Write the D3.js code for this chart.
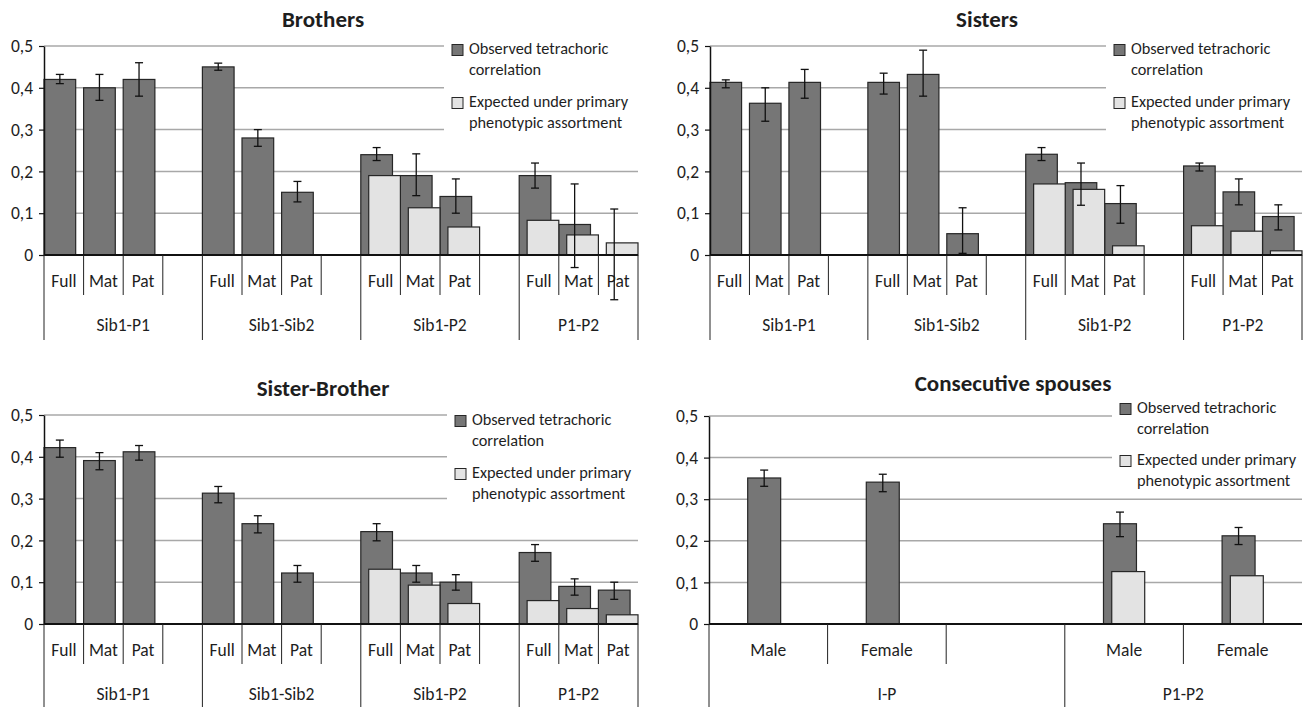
<!DOCTYPE html>
<html>
<head>
<meta charset="utf-8">
<script src="https://cdn.jsdelivr.net/npm/d3@7"></script>
<style>
  body { margin: 0; background: #fff; }
  svg { display: block; }
  text { font-family: Carlito, Lato, "Open Sans", sans-serif; fill: #1e1e1e; }
</style>
</head>
<body>
<svg id="chart" width="1315" height="707"></svg>
<script>
// ---- categories (group, sub-category); "" marks a spacer slot ----
const siblingCategories = [
  ["Sib1-P1", "Full"], ["Sib1-P1", "Mat"], ["Sib1-P1", "Pat"], ["Sib1-P1", ""],
  ["Sib1-Sib2", "Full"], ["Sib1-Sib2", "Mat"], ["Sib1-Sib2", "Pat"], ["Sib1-Sib2", ""],
  ["Sib1-P2", "Full"], ["Sib1-P2", "Mat"], ["Sib1-P2", "Pat"], ["Sib1-P2", ""],
  ["P1-P2", "Full"], ["P1-P2", "Mat"], ["P1-P2", "Pat"]
];
const spouseCategories = [
  ["I-P", "Male"], ["I-P", "Female"], ["I-P", ""],
  ["P1-P2", "Male"], ["P1-P2", "Female"]
];

// ---- Brothers ----
const brothersObserved = [0.42, 0.40, 0.42, null, 0.45, 0.28, 0.15, null, 0.24, 0.19, 0.14, null, 0.19, 0.073, 0.0];
const brothersLow      = [0.41, 0.37, 0.38, null, 0.442, 0.26, 0.127, null, 0.226, 0.142, 0.10, null, 0.16, -0.03, -0.107];
const brothersHigh     = [0.432, 0.432, 0.46, null, 0.459, 0.30, 0.176, null, 0.257, 0.242, 0.182, null, 0.22, 0.17, 0.11];
const brothersExpected = [null, null, null, null, null, null, null, null, 0.19, 0.113, 0.067, null, 0.083, 0.048, 0.029];

// ---- Sisters ----
const sistersObserved = [0.413, 0.363, 0.413, null, 0.413, 0.432, 0.051, null, 0.241, 0.173, 0.123, null, 0.213, 0.151, 0.092];
const sistersLow      = [0.400, 0.32, 0.375, null, 0.385, 0.38, 0.004, null, 0.226, 0.119, 0.076, null, 0.201, 0.12, 0.06];
const sistersHigh     = [0.419, 0.40, 0.444, null, 0.435, 0.49, 0.113, null, 0.257, 0.22, 0.166, null, 0.22, 0.182, 0.12];
const sistersExpected = [null, null, null, null, null, null, null, null, 0.170, 0.157, 0.022, null, 0.070, 0.057, 0.010];

// ---- Sister-Brother ----
const mixedObserved = [0.422, 0.391, 0.412, null, 0.313, 0.240, 0.122, null, 0.221, 0.122, 0.100, null, 0.171, 0.090, 0.081];
const mixedLow      = [0.399, 0.369, 0.392, null, 0.290, 0.218, 0.100, null, 0.199, 0.100, 0.081, null, 0.150, 0.069, 0.059];
const mixedHigh     = [0.440, 0.410, 0.427, null, 0.329, 0.259, 0.140, null, 0.240, 0.140, 0.118, null, 0.190, 0.108, 0.100];
const mixedExpected = [null, null, null, null, null, null, null, null, 0.131, 0.093, 0.049, null, 0.056, 0.037, 0.022];

// ---- Consecutive spouses ----
const spousesObserved = [0.351, 0.341, null, 0.241, 0.212];
const spousesLow      = [0.331, 0.318, null, 0.21, 0.191];
const spousesHigh     = [0.37, 0.36, null, 0.269, 0.232];
const spousesExpected = [null, null, null, 0.126, 0.116];

const yTicks = [0, 0.1, 0.2, 0.3, 0.4, 0.5];
const legendLabels = [
  ["Observed tetrachoric", "correlation"],
  ["Expected under primary", "phenotypic assortment"]
];

const COLORS = { observed: "#767676", expected: "#e3e3e3", edge: "#262626", grid: "#a8a8a8" };
const FONT = "Carlito, Lato, 'Open Sans', sans-serif";
const AXIS_FONT = 17.5;

const svg = d3.select("#chart");

function drawPanel(p) {
  const g = svg.append("g");
  const n = p.categories.length;
  const x = d3.scaleBand().domain(d3.range(n)).range([p.x0, p.x1]).padding(0);
  const y = d3.scaleLinear().domain([0, 0.5]).range([p.yZero, p.yTop]);
  const bw = x.bandwidth();
  const w = bw * p.barFrac;
  const clusterLeft = i => x(i) + bw / 2 - 0.625 * w;

  // horizontal gridlines
  g.selectAll("line.grid").data(yTicks.slice(1)).join("line")
    .attr("x1", p.x0).attr("x2", p.x1)
    .attr("y1", d => y(d)).attr("y2", d => y(d))
    .attr("stroke", COLORS.grid).attr("stroke-width", 1.5);

  // legend backdrop hides the gridlines underneath it
  g.append("rect")
    .attr("x", p.legendX - 8).attr("y", p.legendY[0] - 12)
    .attr("width", 1315 - p.legendX).attr("height", p.legendY[3] - p.legendY[0] + 23)
    .attr("fill", "#fff");

  const idx = d3.range(n);

  // observed bars
  g.selectAll("rect.obs").data(idx.filter(i => p.observed[i] != null)).join("rect")
    .attr("x", i => clusterLeft(i))
    .attr("y", i => y(p.observed[i]))
    .attr("width", w)
    .attr("height", i => y(0) - y(p.observed[i]))
    .attr("fill", COLORS.observed).attr("stroke", COLORS.edge).attr("stroke-width", 1.2);

  // expected bars (offset, drawn over the observed ones)
  g.selectAll("rect.exp").data(idx.filter(i => p.expected[i] != null)).join("rect")
    .attr("x", i => clusterLeft(i) + 0.25 * w)
    .attr("y", i => y(p.expected[i]))
    .attr("width", w)
    .attr("height", i => y(0) - y(p.expected[i]))
    .attr("fill", COLORS.expected).attr("stroke", COLORS.edge).attr("stroke-width", 1.2);

  // confidence intervals on observed bars
  const eb = g.selectAll("g.err").data(idx.filter(i => p.low[i] != null)).join("g");
  const cx = i => clusterLeft(i) + w / 2;
  eb.append("line")
    .attr("x1", cx).attr("x2", cx)
    .attr("y1", i => y(p.low[i])).attr("y2", i => y(p.high[i]))
    .attr("stroke", "#111").attr("stroke-width", 1.3);
  ["low", "high"].forEach(k => {
    eb.append("line")
      .attr("x1", i => cx(i) - 4).attr("x2", i => cx(i) + 4)
      .attr("y1", i => y(p[k][i])).attr("y2", i => y(p[k][i]))
      .attr("stroke", "#111").attr("stroke-width", 1.3);
  });

  // y axis
  const yAxis = d3.axisLeft(y).tickValues(yTicks).tickSizeInner(5).tickSizeOuter(0)
    .tickPadding(6)
    .tickFormat(d => d === 0 ? "0" : d3.format(".1f")(d).replace(".", ","));
  const ya = g.append("g").attr("transform", `translate(${p.x0},0)`).call(yAxis);
  ya.select(".domain").attr("stroke", "#111").attr("stroke-width", 1.5);
  ya.selectAll(".tick line").attr("stroke", "#111").attr("stroke-width", 1.2);
  ya.selectAll(".tick text").attr("font-size", AXIS_FONT).attr("fill", "#1e1e1e")
    .style("font-family", FONT);

  // x axis baseline
  g.append("line").attr("x1", p.x0).attr("x2", p.x1)
    .attr("y1", y(0)).attr("y2", y(0))
    .attr("stroke", "#111").attr("stroke-width", 2);

  // category divider ticks: short between sub-categories, long at group starts
  const isGroupStart = i => i === 0 || p.categories[i][0] !== p.categories[i - 1][0];
  g.selectAll("line.tick").data(idx).join("line")
    .attr("x1", i => x(i)).attr("x2", i => x(i))
    .attr("y1", y(0)).attr("y2", i => y(0) + (isGroupStart(i) ? p.longTick : 40))
    .attr("stroke", "#222").attr("stroke-width", 1);
  if (p.closeRight) {
    g.append("line").attr("x1", p.x1).attr("x2", p.x1)
      .attr("y1", y(0)).attr("y2", y(0) + p.longTick)
      .attr("stroke", "#222").attr("stroke-width", 1);
  }

  // sub-category labels
  g.selectAll("text.sub").data(idx.filter(i => p.categories[i][1] !== "")).join("text")
    .attr("x", i => x(i) + bw / 2).attr("y", y(0) + 28)
    .attr("text-anchor", "middle").attr("dominant-baseline", "middle")
    .attr("font-size", AXIS_FONT)
    .text(i => p.categories[i][1]);

  // group labels
  const groups = d3.groups(idx, i => p.categories[i][0]);
  g.selectAll("text.grp").data(groups).join("text")
    .attr("x", d => (x(d[1][0]) + x(d[1][d[1].length - 1]) + bw) / 2)
    .attr("y", y(0) + 72)
    .attr("text-anchor", "middle").attr("dominant-baseline", "middle")
    .attr("font-size", AXIS_FONT)
    .text(d => d[0]);

  // title
  g.append("text").attr("x", p.titleX).attr("y", p.titleY)
    .attr("text-anchor", "middle").attr("dominant-baseline", "middle")
    .attr("font-size", 23).attr("font-weight", "bold").attr("fill", "#111")
    .text(p.title);

  // legend
  const swatches = [COLORS.observed, COLORS.expected];
  swatches.forEach((c, k) => {
    g.append("rect")
      .attr("x", p.legendX).attr("y", p.legendY[k * 2] - 5.5)
      .attr("width", 11).attr("height", 11)
      .attr("fill", c).attr("stroke", COLORS.edge).attr("stroke-width", 1);
    legendLabels[k].forEach((t, j) => {
      g.append("text")
        .attr("x", p.legendX + 17).attr("y", p.legendY[k * 2 + j])
        .attr("dominant-baseline", "middle").attr("font-size", 16.3)
        .text(t);
    });
  });
}

drawPanel({
  title: "Brothers", titleX: 323, titleY: 21,
  categories: siblingCategories,
  observed: brothersObserved, low: brothersLow, high: brothersHigh, expected: brothersExpected,
  x0: 44, x1: 638, yZero: 255, yTop: 46, barFrac: 0.8, longTick: 85, closeRight: true,
  legendX: 452, legendY: [50, 71, 103, 124]
});

drawPanel({
  title: "Sisters", titleX: 987, titleY: 21,
  categories: siblingCategories,
  observed: sistersObserved, low: sistersLow, high: sistersHigh, expected: sistersExpected,
  x0: 710, x1: 1302, yZero: 255, yTop: 46, barFrac: 0.8, longTick: 85, closeRight: true,
  legendX: 1114, legendY: [50, 71, 103, 124]
});

drawPanel({
  title: "Sister-Brother", titleX: 323, titleY: 390,
  categories: siblingCategories,
  observed: mixedObserved, low: mixedLow, high: mixedHigh, expected: mixedExpected,
  x0: 44, x1: 638, yZero: 624, yTop: 415, barFrac: 0.8, longTick: 90, closeRight: true,
  legendX: 455, legendY: [421, 442, 474, 495]
});

drawPanel({
  title: "Consecutive spouses", titleX: 1013, titleY: 385,
  categories: spouseCategories,
  observed: spousesObserved, low: spousesLow, high: spousesHigh, expected: spousesExpected,
  x0: 709, x1: 1302, yZero: 624, yTop: 416, barFrac: 0.278, longTick: 90, closeRight: false,
  legendX: 1120, legendY: [409, 430, 461, 482]
});
</script>
</body>
</html>
